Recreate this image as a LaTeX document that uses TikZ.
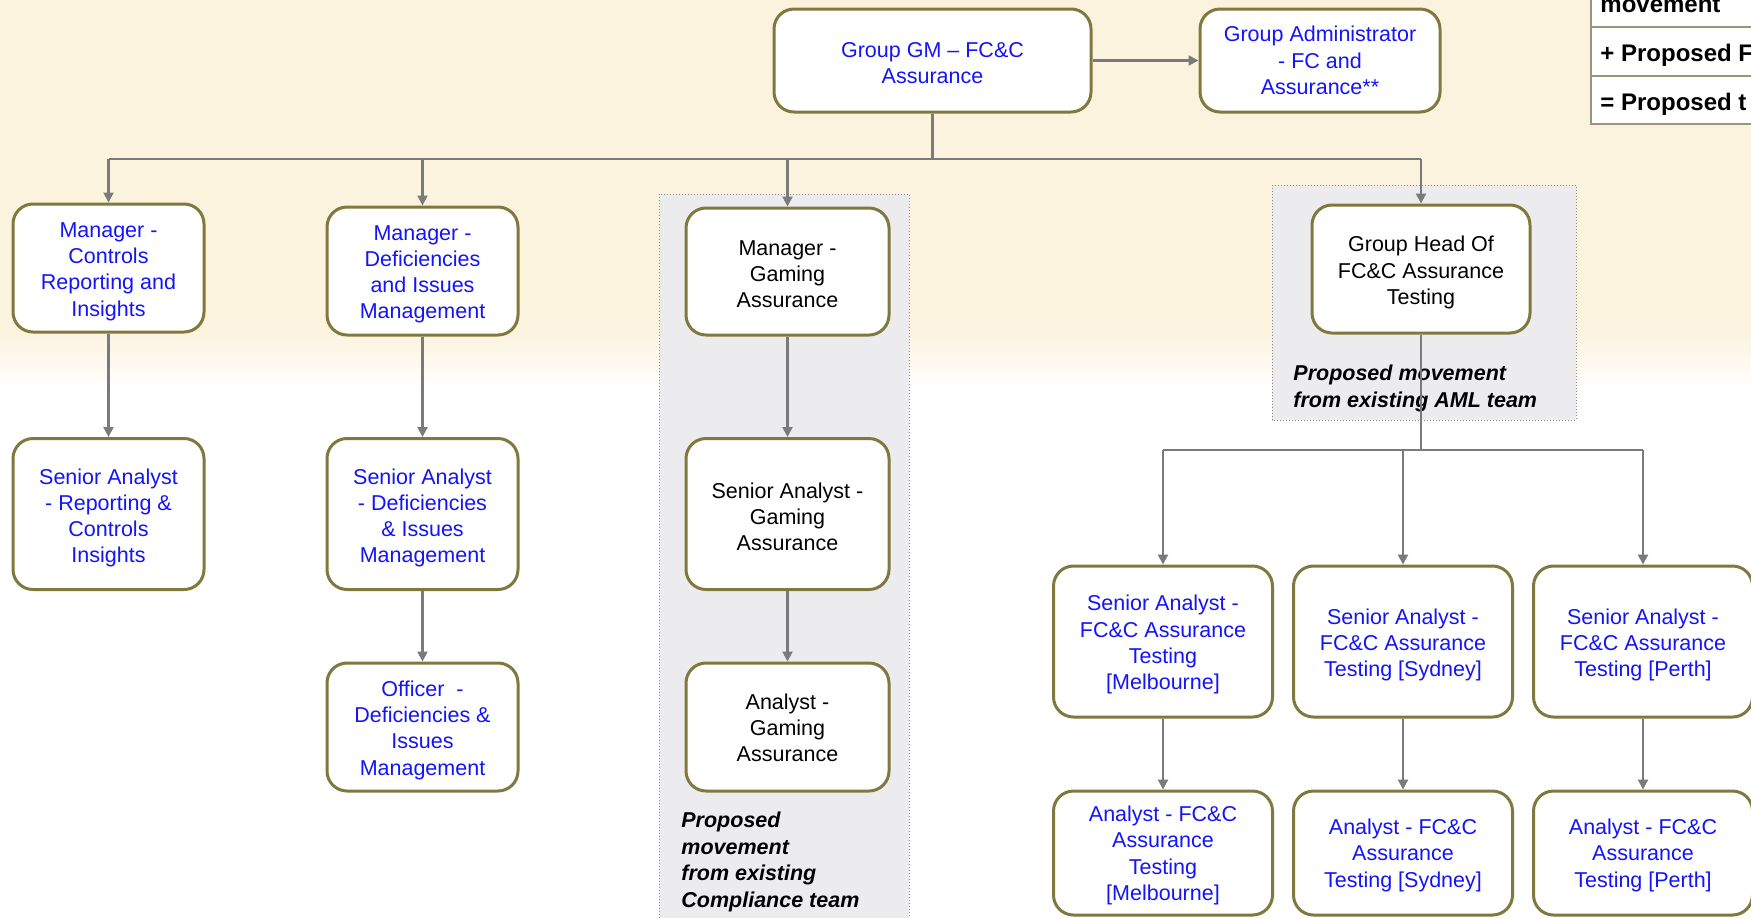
\documentclass[tikz,border=0pt]{standalone}
\usepackage{fontspec}
\setmainfont{Liberation Sans}
\usetikzlibrary{arrows.meta}
\definecolor{cream}{RGB}{252,243,222}
\definecolor{olive}{RGB}{128,120,62}
\definecolor{bluetxt}{RGB}{20,20,250}
\definecolor{conngrey}{RGB}{122,122,122}
\definecolor{groupfill}{RGB}{236,236,239}
\definecolor{groupline}{RGB}{140,140,140}
\definecolor{legline}{RGB}{150,150,120}
\newcommand{\dn}[1]{\rule{0pt}{#1}}
\tikzset{
  orgbox/.style={draw=olive, line width=1.5pt, rounded corners=10pt, fill=white,
    align=center, inner sep=2pt, font=\fontsize{10.75}{13.1}\selectfont},
  bluebox/.style={orgbox, text=bluetxt},
  blackbox/.style={orgbox, text=black},
  conn/.style={draw=conngrey, line width=1.1pt},
  arr/.style={conn, -{Triangle[width=5pt,length=5pt]}},
  grp/.style={draw=groupline, densely dotted, line width=0.5pt, fill=groupfill},
  note/.style={font=\fontsize{10.75}{13.3}\selectfont\bfseries\itshape, align=left, anchor=west, inner sep=0pt},
  legtxt/.style={font=\fontsize{12}{14}\selectfont\bfseries, anchor=west, inner sep=0pt}
}
\begin{document}
\begin{tikzpicture}[x=0.5pt,y=-0.5pt]
\path[use as bounding box] (0,0) rectangle (1751,917);
\clip (0,0) rectangle (1751,917);
% background
\fill[white] (0,0) rectangle (1751,917);
\fill[cream] (0,0) rectangle (1751,330);
\shade[top color=cream, bottom color=white] (0,329) rectangle (1751,390);
% legend table
\fill[white] (1591,-2) rectangle (1760,124);
\draw[legline, line width=0.8pt] (1591,-2) -- (1591,124) -- (1760,124);
\draw[legline, line width=0.8pt] (1591,27) -- (1760,27);
\draw[legline, line width=0.8pt] (1591,76) -- (1760,76);
\node[legtxt] (leg1) at (1600,5) {movement};
\node[legtxt] (leg2) at (1600,55) {+ Proposed F};
\node[legtxt] (leg3) at (1600,104) {= Proposed t};
% group areas
\path[grp] (659,194) rectangle (909,925);
\path[grp] (1272,185) rectangle (1576,420);
\node[note] (noteC) at (681,862) {Proposed\\movement\\from existing\\Compliance team};
\node[note] (noteA) at (1293,388.5) {Proposed movement\\from existing AML team};
% nodes
\node[bluebox, minimum width=158.5pt, minimum height=51.5pt] (gm) at (932.5,60.5) {\dn{9.8pt}Group GM -- FC\&C\\Assurance};
\node[bluebox, minimum width=120pt, minimum height=51.5pt] (admin) at (1320,60.5) {Group Administrator\\- FC and\\Assurance**};
\node[bluebox, minimum width=95.5pt, minimum height=64pt] (mcr) at (108.5,268) {\dn{11pt}Manager -\\Controls\\Reporting and\\Insights};
\node[bluebox, minimum width=95.5pt, minimum height=64pt] (mdi) at (422.5,271) {\dn{10.6pt}Manager -\\Deficiencies\\and Issues\\Management};
\node[blackbox, minimum width=101.5pt, minimum height=63.5pt] (mga) at (787.5,271.5) {\dn{10.2pt}Manager -\\Gaming\\Assurance};
\node[blackbox, minimum width=109pt, minimum height=64pt] (ght) at (1421,269) {\dn{11.4pt}Group Head Of\\FC\&C Assurance\\Testing};
\node[bluebox, minimum width=95.5pt, minimum height=75.5pt] (sar) at (108.5,514) {\dn{11.6pt}Senior Analyst\\- Reporting \&\\Controls\\Insights};
\node[bluebox, minimum width=95.5pt, minimum height=75.5pt] (sad) at (422.5,514) {\dn{11.6pt}Senior Analyst\\- Deficiencies\\\& Issues\\Management};
\node[blackbox, minimum width=101.5pt, minimum height=75.5pt] (sag) at (787.5,514) {\dn{10.6pt}Senior Analyst -\\Gaming\\Assurance};
\node[bluebox, minimum width=95.5pt, minimum height=64pt] (off) at (422.5,727) {\dn{11pt}Officer \ -\\Deficiencies \&\\Issues\\Management};
\node[blackbox, minimum width=101.5pt, minimum height=64pt] (ang) at (787.5,727) {\dn{8.6pt}Analyst -\\Gaming\\Assurance};
\node[bluebox, minimum width=109.5pt, minimum height=75.5pt] (sam) at (1163,641.5) {\dn{11pt}Senior Analyst -\\FC\&C Assurance\\Testing\\{[Melbourne]}};
\node[bluebox, minimum width=109.5pt, minimum height=75.5pt] (sas) at (1403,641.5) {\dn{11pt}Senior Analyst -\\FC\&C Assurance\\Testing [Sydney]};
\node[bluebox, minimum width=109.5pt, minimum height=75.5pt] (sap) at (1643,641.5) {\dn{11pt}Senior Analyst -\\FC\&C Assurance\\Testing [Perth]};
\node[bluebox, minimum width=109.5pt, minimum height=62pt] (anm) at (1163,853) {\dn{10.2pt}Analyst - FC\&C\\Assurance\\Testing\\{[Melbourne]}};
\node[bluebox, minimum width=109.5pt, minimum height=62pt] (ans) at (1403,853) {\dn{10.2pt}Analyst - FC\&C\\Assurance\\Testing [Sydney]};
\node[bluebox, minimum width=109.5pt, minimum height=62pt] (anp) at (1643,853) {\dn{10.2pt}Analyst - FC\&C\\Assurance\\Testing [Perth]};
% connectors
\coordinate (busM) at (932.5,158.6);
\coordinate (tbus) at (1421,450);
\draw[arr] (gm.east) -- (admin.west);
\draw[conn] (gm.south) -- (busM);
\draw[conn] (mcr.north |- busM) -- (ght.north |- busM);
\draw[arr] (mcr.north |- busM) -- (mcr.north);
\draw[arr] (mdi.north |- busM) -- (mdi.north);
\draw[arr] (mga.north |- busM) -- (mga.north);
\draw[arr] (ght.north |- busM) -- (ght.north);
\draw[arr] (mcr.south) -- (sar.north);
\draw[arr] (mdi.south) -- (sad.north);
\draw[arr] (sad.south) -- (off.north);
\draw[arr] (mga.south) -- (sag.north);
\draw[arr] (sag.south) -- (ang.north);
\draw[conn] (ght.south) -- (tbus);
\draw[conn] (sam.north |- tbus) -- (sap.north |- tbus);
\draw[arr] (sam.north |- tbus) -- (sam.north);
\draw[arr] (sas.north |- tbus) -- (sas.north);
\draw[arr] (sap.north |- tbus) -- (sap.north);
\draw[arr] (sam.south) -- (anm.north);
\draw[arr] (sas.south) -- (ans.north);
\draw[arr] (sap.south) -- (anp.north);
\end{tikzpicture}
\end{document}
